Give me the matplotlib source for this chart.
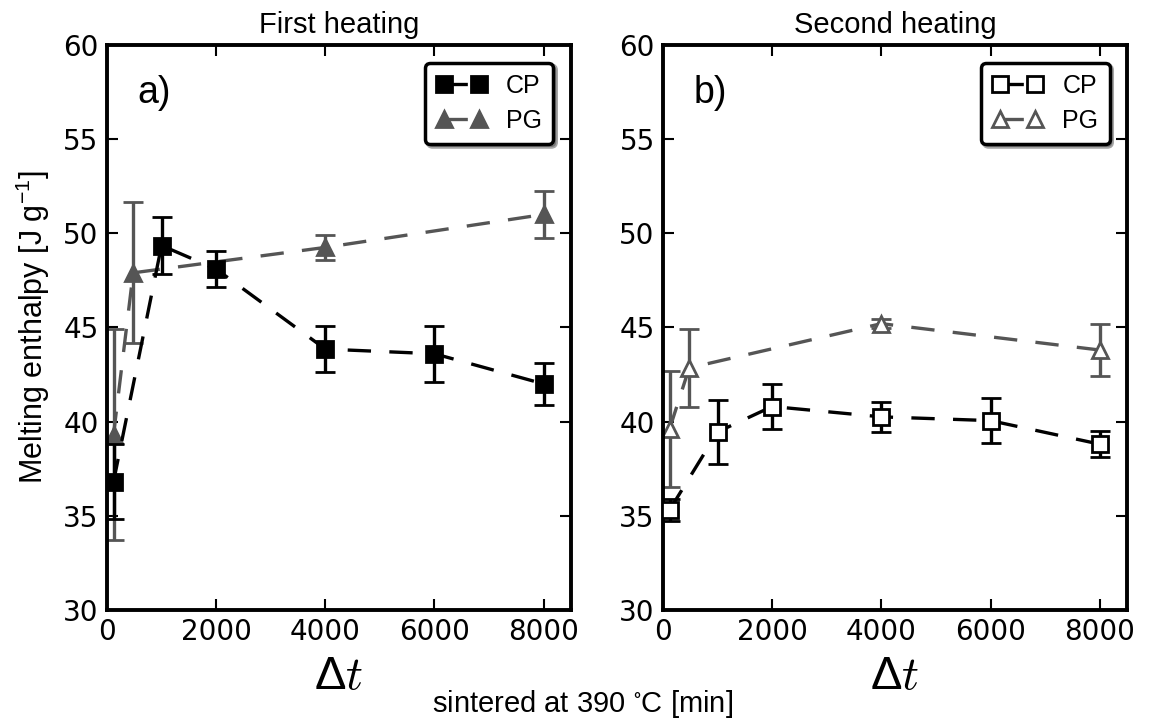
import matplotlib
matplotlib.use('Agg')
import matplotlib.pyplot as plt
from matplotlib.lines import Line2D

# ---- data ----
t_cp = [120, 1000, 2000, 4000, 6000, 8000]
t_pg = [120, 480, 4000, 8000]

cp_first = [36.8, 49.35, 48.1, 43.85, 43.6, 42.0]
cp_first_err = [2.0, 1.5, 0.95, 1.2, 1.5, 1.1]
pg_first = [39.3, 47.9, 49.25, 51.0]
pg_first_err = [5.6, 3.75, 0.65, 1.25]

cp_second = [35.3, 39.45, 40.8, 40.25, 40.05, 38.8]
cp_second_err = [0.6, 1.7, 1.2, 0.8, 1.2, 0.7]
pg_second = [39.6, 42.85, 45.2, 43.8]
pg_second_err = [3.1, 2.05, 0.25, 1.4]

x_ticks = [0, 2000, 4000, 6000, 8000]
y_ticks = [30, 35, 40, 45, 50, 55, 60]
titles = ["First heating", "Second heating"]
panel_labels = ["a)", "b)"]
series_labels = ["CP", "PG"]

plt.rcParams['font.family'] = ['Liberation Sans', 'DejaVu Sans']
plt.rcParams['mathtext.default'] = 'regular'

GRAY = '#555555'
DASH = (7, 5.5)

fig = plt.figure(figsize=(11.5, 7.26), dpi=100)
ax_a = fig.add_axes([0.093, 0.160, 0.4035, 0.778])
ax_b = fig.add_axes([0.5765, 0.160, 0.4035, 0.778])

panels = [
    (ax_a, cp_first, cp_first_err, pg_first, pg_first_err, True),
    (ax_b, cp_second, cp_second_err, pg_second, pg_second_err, False),
]

for i, (ax, cp, cpe, pg, pge, filled) in enumerate(panels):
    ms = 12 if filled else 11
    cp_kw = dict(marker='s', ms=ms, mew=2,
                 mfc='black' if filled else 'white', mec='black')
    pg_kw = dict(marker='^', ms=ms, mew=2,
                 mfc=GRAY if filled else 'white', mec=GRAY)
    ax.errorbar(t_pg, pg, yerr=pge, color=GRAY, ls='--', dashes=DASH, lw=2.4,
                elinewidth=2.4, capsize=7, capthick=2.4, zorder=2, **pg_kw)
    ax.errorbar(t_cp, cp, yerr=cpe, color='black', ls='--', dashes=DASH, lw=2.4,
                elinewidth=2.4, capsize=7, capthick=2.4, zorder=3, **cp_kw)
    ax.set_xlim(0, 8500)
    ax.set_ylim(30, 60)
    ax.set_xticks(x_ticks)
    ax.set_yticks(y_ticks)
    ax.tick_params(direction='in', top=True, right=True, length=8, width=1.5,
                   labelsize=20, pad=6)
    for lab in ax.get_xticklabels() + ax.get_yticklabels():
        lab.set_fontfamily('DejaVu Sans')
    for sp in ax.spines.values():
        sp.set_linewidth(2.8)
    ax.set_title(titles[i], fontsize=21, pad=9)
    ax.set_xlabel(r'$\Delta \mathit{t}$', fontsize=34, math_fontfamily='cm',
                  labelpad=6)
    ax.text(0.065, 0.915, panel_labels[i], transform=ax.transAxes,
            fontsize=27, ha='left', va='center')
    h_cp = Line2D([], [], color='black', ls='--', dashes=DASH, lw=2.4, **cp_kw)
    h_pg = Line2D([], [], color=GRAY, ls='--', dashes=DASH, lw=2.4, **pg_kw)
    leg = ax.legend([h_cp, h_pg], series_labels, loc='upper right', numpoints=2,
                    fontsize=18, shadow=True, fancybox=True, framealpha=1,
                    edgecolor='black', handlelength=2.0, borderaxespad=0.7,
                    borderpad=0.45, labelspacing=0.45, handletextpad=0.8)
    leg.get_frame().set_linewidth(2.5)

ax_a.set_ylabel('Melting enthalpy [J g$^{-1}$]', fontsize=22, labelpad=8)
fig.text(0.507, 0.008, 'sintered at 390 $^{\\circ}$C [min]', ha='center',
         va='bottom', fontsize=21)

fig.savefig('out.png', dpi=100)
